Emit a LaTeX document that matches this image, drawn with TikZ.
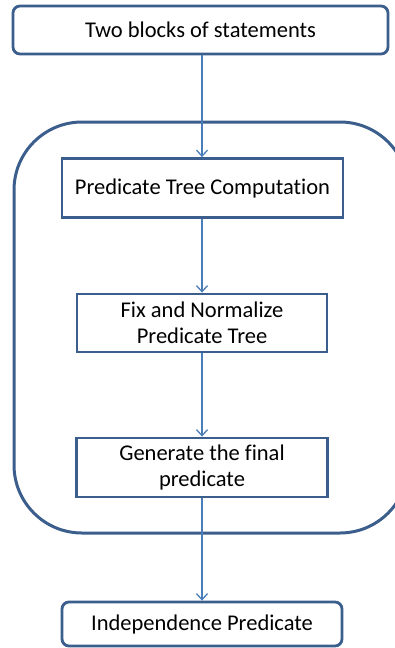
\documentclass[tikz,border=0pt]{standalone}
\usepackage{fontspec}
\setmainfont{Carlito}[Ligatures=NoCommon]
\usetikzlibrary{arrows.meta}
\definecolor{bordc}{HTML}{3B5E8C}
\definecolor{arrc}{HTML}{4A7EBB}
\begin{document}
\begin{tikzpicture}[x=1pt,y=-1pt,
  box/.style={draw=bordc,line width=2.8pt,fill=white,align=center,font=\fontsize{22.5}{26}\selectfont,inner sep=0pt},
  rbox/.style={box,rounded corners=7pt},
  conn/.style={draw=arrc,line width=1.3pt,-{Straight Barb[length=6pt,width=11pt,line width=1.3pt]}}]
\useasboundingbox (0,0) rectangle (395,648);
\begin{scope}
\clip (0,0) rectangle (395,648);
\draw[bordc,line width=3pt,rounded corners=68pt] (14,122) rectangle (408,533);
\end{scope}
\node[rbox,minimum width=375pt,minimum height=48pt] (top) at (200.5,30) {Two blocks of statements};
\node[box,minimum width=281pt,minimum height=59pt] (b2) at (202.5,188) {Predicate Tree Computation};
\node[box,minimum width=250pt,minimum height=58pt] (b3) at (202,323) {Fix and Normalize\\Predicate Tree};
\node[box,minimum width=251pt,minimum height=59pt] (b4) at (202,467.5) {Generate the final\\predicate};
\node[rbox,minimum width=280pt,minimum height=44pt] (b5) at (202,624) {Independence Predicate};
\draw[conn] (top.south -| b3.north) -- (b2.north -| b3.north);
\draw[conn] (b2.south -| b3.north) -- (b3.north);
\draw[conn] (b3.south) -- (b4.north);
\draw[conn] (b4.south) -- (b5.north);
\end{tikzpicture}
\end{document}
